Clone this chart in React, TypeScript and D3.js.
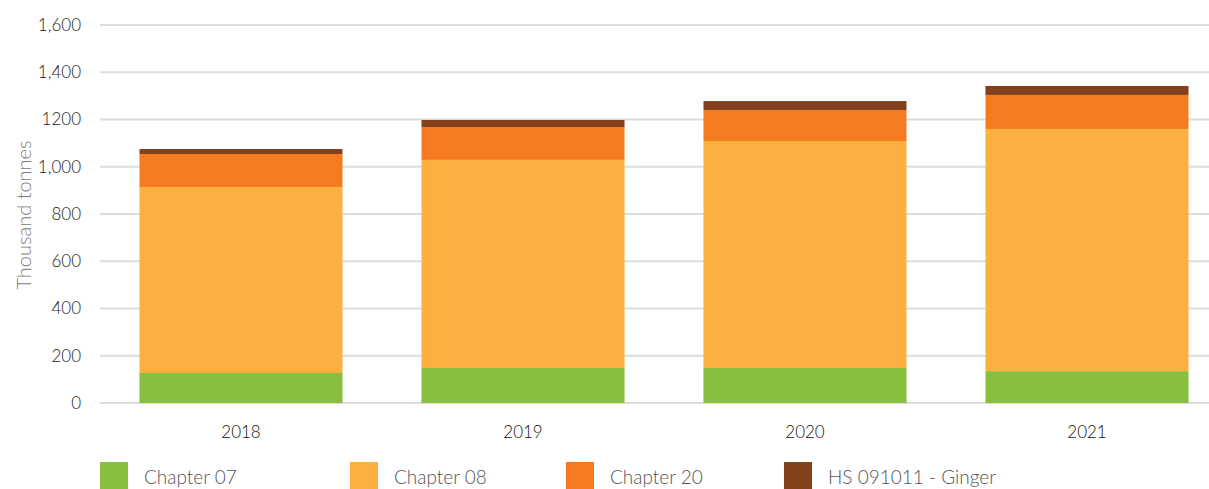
import React from "react";
import * as d3 from "d3";

const years = ["2018", "2019", "2020", "2021"];
const chapter07 = [127, 148, 148, 135];
const chapter08 = [787, 881, 961, 1025];
const chapter20 = [140, 139, 131, 144];
const ginger = [21, 30, 38, 38];
const seriesNames = ["Chapter 07", "Chapter 08", "Chapter 20", "HS 091011 - Ginger"];
const seriesColors = ["#87BF3F", "#FBB040", "#F47B20", "#843F1B"];
const yTicks = [0, 200, 400, 600, 800, 1000, 1200, 1400, 1600];
const yTickLabels = ["0", "200", "400", "600", "800", "1,000", "1200", "1,400", "1,600"];

export default function App() {
  const W = 1209, H = 489;
  const rows = years.map((y, i) => ({
    year: y,
    s0: chapter07[i],
    s1: chapter08[i],
    s2: chapter20[i],
    s3: ginger[i],
  }));
  const stack = d3.stack<any>().keys(["s0", "s1", "s2", "s3"]);
  const stacked = stack(rows);
  const x = d3.scaleBand().domain(years).range([100, 1228]).paddingInner(0.28).paddingOuter(0.14);
  const y = d3.scaleLinear().domain([0, 1600]).range([403, 25]);
  const font = "Lato, 'Open Sans', sans-serif";
  const legendX = [100, 350, 566, 784];

  return (
    <svg width={W} height={H} style={{ position: "absolute", left: 0, top: 0, background: "#fff" }}>
      {yTicks.map((t, i) => (
        <g key={t}>
          <line x1={100} x2={1209} y1={y(t)} y2={y(t)} stroke="#DDDDDF" strokeWidth={2} />
          <text x={81} y={y(t)} dy="0.35em" textAnchor="end" fontFamily={font} fontWeight={300} fontSize={17} fill="#222">
            {yTickLabels[i]}
          </text>
        </g>
      ))}
      <text
        transform={`translate(31,${215}) rotate(-90)`}
        textAnchor="middle"
        fontFamily={font}
        fontWeight={300}
        fontSize={20}
        fill="#7a7a7a"
      >
        Thousand tonnes
      </text>
      {stacked.map((layer, si) => (
        <g key={si} fill={seriesColors[si]}>
          {layer.map((d: any, j: number) => (
            <rect
              key={j}
              x={x(years[j])}
              width={x.bandwidth()}
              y={y(d[1])}
              height={y(d[0]) - y(d[1])}
            />
          ))}
        </g>
      ))}
      {years.map((yr) => (
        <text
          key={yr}
          x={(x(yr) as number) + x.bandwidth() / 2}
          y={432}
          dy="0.35em"
          textAnchor="middle"
          fontFamily={font}
          fontWeight={300}
          fontSize={17}
          fill="#111"
        >
          {yr}
        </text>
      ))}
      {seriesNames.map((n, i) => (
        <g key={n}>
          <rect x={legendX[i]} y={462} width={28} height={28} fill={seriesColors[i]} />
          <text x={legendX[i] + 44} y={477} dy="0.35em" fontFamily={font} fontWeight={300} fontSize={19} fill="#555">
            {n}
          </text>
        </g>
      ))}
    </svg>
  );
}
